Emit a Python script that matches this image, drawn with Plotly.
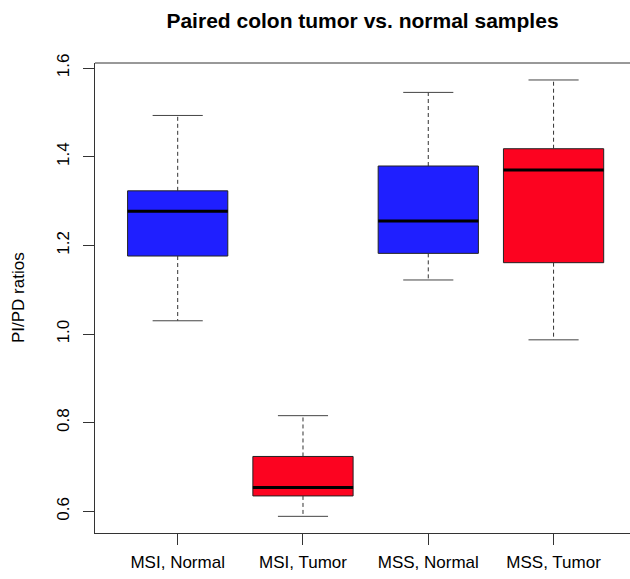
import plotly.graph_objects as go

categories = ["MSI, Normal", "MSI, Tumor", "MSS, Normal", "MSS, Tumor"]
lower_whisker = [1.030, 0.589, 1.122, 0.987]
q1 = [1.176, 0.635, 1.182, 1.161]
median = [1.277, 0.654, 1.255, 1.370]
q3 = [1.323, 0.724, 1.379, 1.418]
upper_whisker = [1.493, 0.816, 1.545, 1.573]
fill_colors = ["#1f1fff", "#fc0320", "#1f1fff", "#fc0320"]
y_ticks = [0.6, 0.8, 1.0, 1.2, 1.4, 1.6]

title = "Paired colon tumor vs. normal samples"
y_title = "PI/PD ratios"

FONT = "Liberation Sans, Arial, sans-serif"
HALF = 0.4   # box half-width (R default width 0.8)
CAP = 0.2    # whisker cap half-width

fig = go.Figure()
for i, cat in enumerate(categories):
    x = i + 1
    fig.add_trace(go.Scatter(
        x=[x - HALF, x + HALF, x + HALF, x - HALF, x - HALF],
        y=[q1[i], q1[i], q3[i], q3[i], q1[i]],
        fill="toself", fillcolor=fill_colors[i],
        mode="lines", line=dict(color="#222222", width=1),
        hoverinfo="skip", showlegend=False))
    fig.add_trace(go.Scatter(
        x=[x, x, None, x, x],
        y=[q3[i], upper_whisker[i], None, q1[i], lower_whisker[i]],
        mode="lines", line=dict(color="#333333", width=1, dash="4px,3px"),
        hoverinfo="skip", showlegend=False))
    fig.add_trace(go.Scatter(
        x=[x - CAP, x + CAP, None, x - CAP, x + CAP],
        y=[upper_whisker[i], upper_whisker[i], None, lower_whisker[i], lower_whisker[i]],
        mode="lines", line=dict(color="#444444", width=1),
        hoverinfo="skip", showlegend=False))
    fig.add_trace(go.Scatter(
        x=[x - HALF, x + HALF], y=[median[i], median[i]],
        mode="lines", line=dict(color="black", width=3),
        hoverinfo="skip", showlegend=False))

PLOT_W = 630 - 95

fig.update_layout(
    width=630, height=579,
    margin=dict(l=95, r=0, t=63, b=46, autoexpand=False),
    paper_bgcolor="white", plot_bgcolor="white",
    font=dict(family=FONT, size=17, color="black"),
    title=dict(text="<b>" + title + "</b>", x=0.5, xref="paper", xanchor="center",
               y=1 - 21 / 579, yref="container", yanchor="middle",
               font=dict(family=FONT, size=21, color="black")),
    xaxis=dict(range=[0.34, 4.61], tickmode="array",
               tickvals=[i + 1 for i in range(len(categories))], ticktext=categories,
               showgrid=False, zeroline=False, showline=True, linecolor="#333333",
               linewidth=1, ticks="outside", ticklen=11, tickcolor="#333333",
               tickfont=dict(size=17), ticklabelstandoff=3,
               automargin=False, fixedrange=True),
    yaxis=dict(range=[0.5514, 1.6113], tickmode="array", tickvals=y_ticks,
               ticktext=[f"{v:.1f}" for v in y_ticks], tickangle=-90,
               showgrid=False, zeroline=False, showline=True, linecolor="#333333",
               linewidth=1, ticks="outside", ticklen=11, tickcolor="#333333",
               tickfont=dict(size=17), ticklabelstandoff=7, automargin=False),
    annotations=[dict(text=y_title, textangle=-90, xref="paper", yref="paper",
                      x=(18 - 95) / PLOT_W, y=0.5, xanchor="center", yanchor="middle",
                      showarrow=False, font=dict(size=17, family=FONT, color="black"))],
    shapes=[dict(type="line", xref="paper", yref="paper", x0=0, x1=1.05, y0=1, y1=1,
                 line=dict(color="#333333", width=1))],
)

fig.write_html("out.html")
